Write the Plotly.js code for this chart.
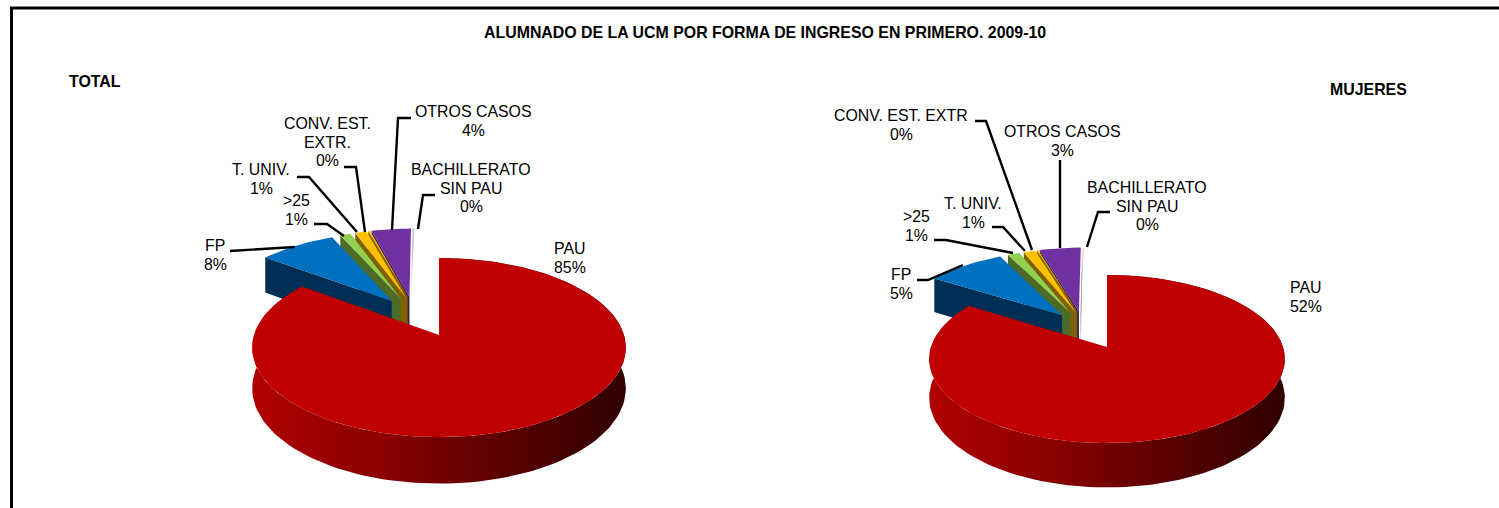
<!DOCTYPE html>
<html><head><meta charset="utf-8">
<script src="https://cdn.plot.ly/plotly-3.0.1.min.js"></script>
<style>html,body{margin:0;padding:0;background:#fff}#c{width:1499px;height:508px}</style>
</head><body><div id="c"></div>
<script>
// ---- data ----
const categories = ['PAU','FP','>25','T. UNIV.','CONV. EST. EXTR.','OTROS CASOS','BACHILLERATO SIN PAU'];
const totalValues = [85.2, 8.0, 1.1, 1.2, 0.2, 4.1, 0.2];
const mujeresValues = [52.0, 5.3, 0.8, 0.8, 0.1, 2.8, 0.1];
const titleText = 'ALUMNADO DE LA UCM POR FORMA DE INGRESO EN PRIMERO. 2009-10';

// ---- style / geometry ----
const topColors  = ['#C00000','#0070C0','#92D050','#FFC000','#FFC000','#7030A0','#C8C4D4'];
const sideColors = ['#8a0000','#002f55','#4c6a28','#7f6000','#7f6000','#371850','#8a8698'];
const explodeU = [0,-0.27,-0.22,-0.19,-0.18,-0.17,-0.16];
const explodeV = [0, 0.41, 0.44, 0.45, 0.46, 0.46, 0.46];
const pies = [
  {values: totalValues,   cx: 439,  cy: 335, A: 185, B: 87.8, k: 0.14,  D: 40},
  {values: mujeresValues, cx: 1107, cy: 347, A: 176, B: 82.3, k: 0.143, D: 38}
];
const labelFont = {family:'Liberation Sans, Arial, sans-serif', size:15.9, color:'#000'};
const boldFont = {family:'Liberation Sans, Arial, sans-serif', size:15.9, color:'#000', weight:700};
const lineStep = 18.6;
const labels = [
  [['PAU','85%'],570,258],[['FP','8%'],215,255],[['>25','1%'],296,210],[['T. UNIV.','1%'],261,179],
  [['CONV. EST.','EXTR.','0%'],327,142],[['OTROS CASOS','4%'],473,121],[['BACHILLERATO','SIN PAU','0%'],471,188],
  [['PAU','52%'],1306,297],[['FP','5%'],901,284],[['>25','1%'],916,226],[['T. UNIV.','1%'],973,213],
  [['CONV. EST. EXTR','0%'],901,125],[['OTROS CASOS','3%'],1062,141],[['BACHILLERATO','SIN PAU','0%'],1147,206]
];
const leaders = [
  [[230,251],[295,247]],[[314,224],[327,224],[344,236]],[[297,177],[309,177],[357,232]],
  [[344,167],[356,167],[365,232]],[[411,118],[398,118],[392,230]],[[435,195],[423,195],[418,229]],
  [[975,121],[986,121],[1032,250]],[[1060,160],[1060,248]],[[1110,212],[1098,212],[1087,247]],
  [[992,227],[1003,227],[1025,251]],[[934,240],[946,240],[1013,253]],[[917,280],[928,280],[963,265]]
];

// ---- projection of a tilted disc onto the chart axes ----
function project(p,u,v,z){
  const w = 1 + p.k*v;
  return [p.cx + p.A*u/w, p.cy - p.B*v/w + z*p.D/w];
}
function arc(p,t0,t1,du,dv,z){
  const out=[], n=Math.max(2,Math.ceil((t1-t0)/2));
  for(let i=0;i<=n;i++){
    const t=(t0+(t1-t0)*i/n)*Math.PI/180;
    out.push(project(p,Math.sin(t)+du,Math.cos(t)+dv,z));
  }
  return out;
}
function poly(pts,color,name,extra){
  const c=pts.concat([pts[0]]);
  return Object.assign({type:'scatter',mode:'lines',x:c.map(q=>q[0]),y:c.map(q=>q[1]),
    fill:'toself',fillcolor:color,line:{width:0,color:color},name:name,hoverinfo:'name',showlegend:false},extra||{});
}
function pieTraces(p){
  const sum=p.values.reduce((a,b)=>a+b,0);
  let acc=0;
  const slices=p.values.map((v,i)=>{const s={i,t0:acc,t1:acc+v/sum*360};acc=s.t1;return s;});
  const out=[];
  for(const s of slices.slice(1).reverse()){
    const du=explodeU[s.i],dv=explodeV[s.i],n=categories[s.i];
    const top=arc(p,s.t0,s.t1,du,dv,0), v0=project(p,du,dv,0), v1=project(p,du,dv,1);
    const first=project(p,Math.sin(s.t0*Math.PI/180)+du,Math.cos(s.t0*Math.PI/180)+dv,0);
    const firstLow=project(p,Math.sin(s.t0*Math.PI/180)+du,Math.cos(s.t0*Math.PI/180)+dv,1);
    out.push(poly([first,v0,v1,firstLow],sideColors[s.i],n));
    out.push(poly([v0].concat(top),topColors[s.i],n));
  }
  const red=slices[0];
  const upper=arc(p,red.t0,red.t1,0,0,0), lower=arc(p,red.t0,red.t1,0,0,1).reverse();
  out.push(poly(upper.concat(lower),'#8a0000',categories[0],{fillgradient:{type:'horizontal',
    colorscale:[[0,'#b00000'],[0.35,'#8a0000'],[0.7,'#560000'],[1,'#300000']]}}));
  out.push(poly([project(p,0,0,0)].concat(upper),topColors[0],categories[0]));
  return out;
}
const data=[...pieTraces(pies[0]),...pieTraces(pies[1])];
for(const l of leaders){
  data.push({type:'scatter',mode:'lines',x:l.map(q=>q[0]),y:l.map(q=>q[1]),
    line:{color:'#000',width:2.4},hoverinfo:'skip',showlegend:false});
}
const annotations=[];
for(const [lines,x,y] of labels){
  lines.forEach((t,i)=>annotations.push({xref:'x',yref:'y',x,y:y+(i-(lines.length-1)/2)*lineStep,text:t,
    showarrow:false,font:labelFont,align:'center',xanchor:'center',yanchor:'middle'}));
}
const plain=(t,x,y)=>({xref:'x',yref:'y',x,y,text:'<b>'+t+'</b>',showarrow:false,font:boldFont,xanchor:'center',yanchor:'middle'});
annotations.push(plain(titleText,765,32),plain('TOTAL',95,81),plain('MUJERES',1368,89));

const hidden=r=>({range:r,visible:false,fixedrange:true,showgrid:false,zeroline:false});
Plotly.newPlot('c',data,{
  width:1499,height:508,margin:{l:0,r:0,t:0,b:0},paper_bgcolor:'#fff',plot_bgcolor:'#fff',
  xaxis:hidden([0,1499]),yaxis:hidden([508,0]),showlegend:false,annotations,
  shapes:[
    {type:'line',xref:'x',yref:'y',x0:10,x1:1499,y0:8,y1:8,line:{color:'#000',width:3}},
    {type:'line',xref:'x',yref:'y',x0:11.5,x1:11.5,y0:7,y1:508,line:{color:'#000',width:3}}
  ]
},{displayModeBar:false,responsive:false});
</script></body></html>
